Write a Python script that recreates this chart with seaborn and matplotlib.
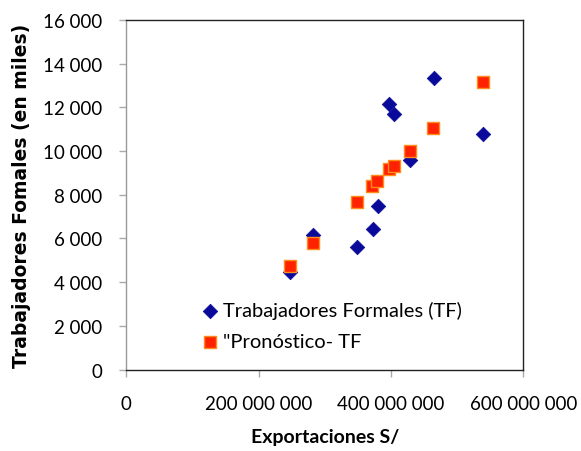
import numpy as np
import pandas as pd
import seaborn as sns
import matplotlib.pyplot as plt
from matplotlib.ticker import FuncFormatter

# exportaciones (S/) y trabajadores formales (miles)
export_tf = [247.5e6, 282.7e6, 348.2e6, 373.3e6, 379.9e6, 397.4e6, 404.5e6, 428.7e6, 464.9e6, 539.4e6]
tf_real = [4470, 6155, 5590, 6430, 7500, 12130, 11710, 9610, 13320, 10760]

export_pr = [247.5e6, 282.7e6, 348.0e6, 372.0e6, 379.0e6, 397.0e6, 404.0e6, 428.0e6, 464.0e6, 539.0e6]
tf_pronostico = [4745, 5790, 7660, 8390, 8640, 9155, 9310, 9980, 11070, 13170]

lbl_real = 'Trabajadores Formales (TF)'
lbl_pron = '"Pronóstico- TF'

df_real = pd.DataFrame({'x': export_tf, 'y': tf_real})
df_pron = pd.DataFrame({'x': export_pr, 'y': tf_pronostico})

sns.set_style('white')
plt.rcParams['font.family'] = ['Lato', 'DejaVu Sans']
plt.rcParams['text.color'] = 'black'
plt.rcParams['axes.labelcolor'] = 'black'
plt.rcParams['xtick.labelcolor'] = 'black'
plt.rcParams['ytick.labelcolor'] = 'black'

fig, ax = plt.subplots(figsize=(5.81, 4.52), dpi=100)
plt.subplots_adjust(left=0.217, right=0.901, top=0.954, bottom=0.18)

sns.scatterplot(data=df_real, x='x', y='y', marker='D', s=55, color='#0a0a9a',
                edgecolor='#0a0a9a', linewidth=0.5, ax=ax, label=lbl_real, zorder=2)
sns.scatterplot(data=df_pron, x='x', y='y', marker='s', s=75, color='#ff2200',
                edgecolor='#ff8c1a', linewidth=1, ax=ax, label=lbl_pron, zorder=3)

ax.set_xlim(0, 600e6)
ax.set_ylim(0, 16000)
ax.set_xticks([0, 200e6, 400e6, 600e6])
ax.set_yticks(np.arange(0, 16001, 2000))

def espacios(v, pos):
    return f'{int(round(v)):,}'.replace(',', ' ')

ax.xaxis.set_major_formatter(FuncFormatter(espacios))
ax.yaxis.set_major_formatter(FuncFormatter(espacios))
ax.tick_params(axis='both', which='both', direction='out', length=5, width=1,
               color='#aaaaaa', labelsize=13.5, bottom=True, left=True)
ax.tick_params(axis='x', pad=13)
ax.tick_params(axis='y', pad=12)

for s in ['top', 'right', 'bottom']:
    ax.spines[s].set_color('#222222')
    ax.spines[s].set_linewidth(1)
ax.spines['left'].set_color('#999999')
ax.spines['left'].set_linewidth(1)

ax.set_xlabel('Exportaciones S/', fontsize=14, fontweight='bold', labelpad=12)
ax.set_ylabel('Trabajadores Fomales (en miles)', fontsize=13.5, fontweight='bold',
              family='DejaVu Sans', labelpad=9)

ax.legend(loc='lower left', bbox_to_anchor=(0.186, 0.055), frameon=False, fontsize=14.5,
          handlelength=1, handletextpad=0.15, labelspacing=0.7, borderpad=0,
          borderaxespad=0)

fig.savefig('out.png', dpi=100)
